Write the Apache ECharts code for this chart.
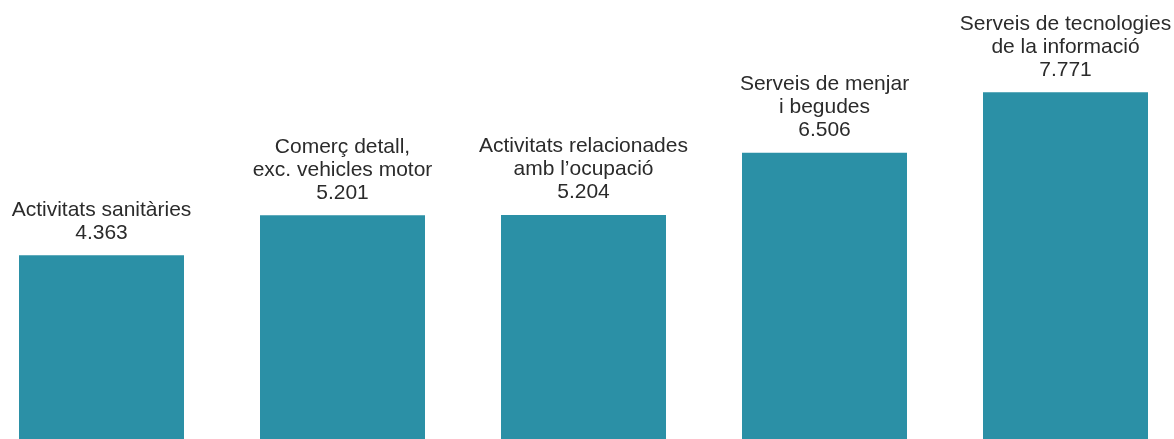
<!DOCTYPE html>
<html>
<head>
<meta charset="utf-8">
<script src="https://cdn.jsdelivr.net/npm/echarts@6/dist/echarts.min.js"></script>
<style>
html,body{margin:0;padding:0;background:#fff;overflow:hidden;width:1174px;height:439px;position:relative;}
#chart{position:absolute;left:-19px;top:0;width:1205px;height:464px;}
</style>
</head>
<body>
<div id="chart"></div>
<script>
var categories = [
  "Activitats sanitàries",
  "Comerç detall,\nexc. vehicles motor",
  "Activitats relacionades\namb l’ocupació",
  "Serveis de menjar\ni begudes",
  "Serveis de tecnologies\nde la informació"
];
var values = [4363, 5201, 5204, 6506, 7771];

function fmt(v) {
  return String(v).replace(/\B(?=(\d{3})+(?!\d))/g, '.');
}

var chart = echarts.init(document.getElementById('chart'));
chart.setOption({
  animation: false,
  backgroundColor: '#ffffff',
  grid: { left: 0, right: 0, top: 33.5, bottom: 0, containLabel: false },
  xAxis: {
    type: 'category',
    data: categories,
    show: false
  },
  yAxis: {
    type: 'value',
    min: 0,
    max: 9000,
    show: false
  },
  series: [{
    type: 'bar',
    data: values,
    barWidth: 165,
    itemStyle: { color: '#2b90a6' },
    label: {
      show: true,
      position: 'top',
      distance: 11,
      fontFamily: 'Liberation Sans, Arial, sans-serif',
      fontSize: 21,
      lineHeight: 23,
      color: '#2b2b2b',
      align: 'center',
      formatter: function (p) { return p.name + '\n' + fmt(p.value); }
    }
  }]
});
</script>
</body>
</html>
